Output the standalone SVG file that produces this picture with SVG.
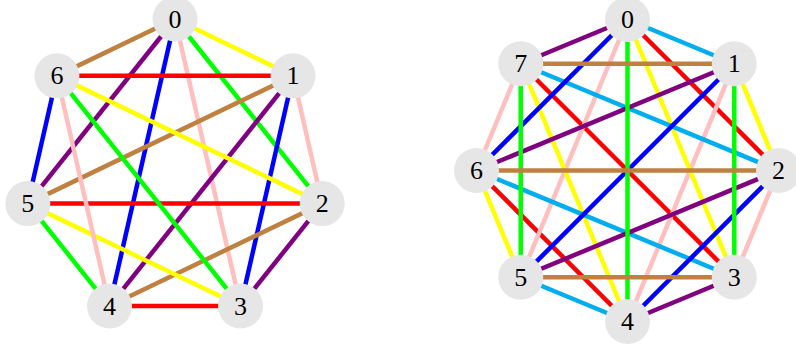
<svg xmlns="http://www.w3.org/2000/svg" width="796" height="349" viewBox="0 0 796 349">
<style>
line{stroke-width:4.5;stroke-linecap:butt}
.r{stroke:#ff0000}.y{stroke:#ffff00}.g{stroke:#00ff00}.p{stroke:#ffbfbf}
.b{stroke:#0000ff}.v{stroke:#800080}.n{stroke:#bf8040}.c{stroke:#00aeef}
circle{fill:#e6e6e6}
text{font-family:"Liberation Serif","Times New Roman",serif;font-size:26px;text-anchor:middle;fill:#000}
</style>
<rect width="796" height="349" fill="#fff"/>
<g id="connectors-left">
<line class="y" x1="175" y1="19" x2="293.06" y2="75.85"/>
<line class="g" x1="175" y1="19" x2="322.21" y2="203.6"/>
<line class="p" x1="175" y1="19" x2="240.52" y2="306.05"/>
<line class="b" x1="175" y1="19" x2="109.48" y2="306.05"/>
<line class="v" x1="175" y1="19" x2="27.79" y2="203.6"/>
<line class="n" x1="175" y1="19" x2="56.94" y2="75.85"/>
<line class="p" x1="293.06" y1="75.85" x2="322.21" y2="203.6"/>
<line class="b" x1="293.06" y1="75.85" x2="240.52" y2="306.05"/>
<line class="v" x1="293.06" y1="75.85" x2="109.48" y2="306.05"/>
<line class="n" x1="293.06" y1="75.85" x2="27.79" y2="203.6"/>
<line class="r" x1="293.06" y1="75.85" x2="56.94" y2="75.85"/>
<line class="v" x1="322.21" y1="203.6" x2="240.52" y2="306.05"/>
<line class="n" x1="322.21" y1="203.6" x2="109.48" y2="306.05"/>
<line class="r" x1="322.21" y1="203.6" x2="27.79" y2="203.6"/>
<line class="y" x1="322.21" y1="203.6" x2="56.94" y2="75.85"/>
<line class="r" x1="240.52" y1="306.05" x2="109.48" y2="306.05"/>
<line class="y" x1="240.52" y1="306.05" x2="27.79" y2="203.6"/>
<line class="g" x1="240.52" y1="306.05" x2="56.94" y2="75.85"/>
<line class="g" x1="109.48" y1="306.05" x2="27.79" y2="203.6"/>
<line class="p" x1="109.48" y1="306.05" x2="56.94" y2="75.85"/>
<line class="b" x1="27.79" y1="203.6" x2="56.94" y2="75.85"/>
</g>
<g id="connectors-right">
<line class="r" x1="627.5" y1="19.5" x2="778.5" y2="170.5"/>
<line class="r" x1="734.27" y1="277.27" x2="520.73" y2="63.73"/>
<line class="r" x1="627.5" y1="321.5" x2="476.5" y2="170.5"/>
<line class="p" x1="627.5" y1="19.5" x2="520.73" y2="277.27"/>
<line class="p" x1="734.27" y1="63.73" x2="627.5" y2="321.5"/>
<line class="p" x1="778.5" y1="170.5" x2="734.27" y2="277.27"/>
<line class="p" x1="476.5" y1="170.5" x2="520.73" y2="63.73"/>
<line class="y" x1="627.5" y1="19.5" x2="734.27" y2="277.27"/>
<line class="y" x1="734.27" y1="63.73" x2="778.5" y2="170.5"/>
<line class="y" x1="627.5" y1="321.5" x2="520.73" y2="63.73"/>
<line class="y" x1="520.73" y1="277.27" x2="476.5" y2="170.5"/>
<line class="c" x1="627.5" y1="19.5" x2="734.27" y2="63.73"/>
<line class="c" x1="778.5" y1="170.5" x2="520.73" y2="63.73"/>
<line class="c" x1="734.27" y1="277.27" x2="476.5" y2="170.5"/>
<line class="c" x1="627.5" y1="321.5" x2="520.73" y2="277.27"/>
<line class="v" x1="627.5" y1="19.5" x2="520.73" y2="63.73"/>
<line class="v" x1="734.27" y1="63.73" x2="476.5" y2="170.5"/>
<line class="v" x1="778.5" y1="170.5" x2="520.73" y2="277.27"/>
<line class="v" x1="734.27" y1="277.27" x2="627.5" y2="321.5"/>
<line class="b" x1="627.5" y1="19.5" x2="476.5" y2="170.5"/>
<line class="b" x1="734.27" y1="63.73" x2="520.73" y2="277.27"/>
<line class="b" x1="778.5" y1="170.5" x2="627.5" y2="321.5"/>
<line class="g" x1="627.5" y1="19.5" x2="627.5" y2="321.5"/>
<line class="g" x1="734.27" y1="63.73" x2="734.27" y2="277.27"/>
<line class="g" x1="520.73" y1="277.27" x2="520.73" y2="63.73"/>
<line class="n" x1="734.27" y1="63.73" x2="520.73" y2="63.73"/>
<line class="n" x1="778.5" y1="170.5" x2="476.5" y2="170.5"/>
<line class="n" x1="734.27" y1="277.27" x2="520.73" y2="277.27"/>
</g>
<g id="L0"><circle cx="175" cy="19" r="22.5"/><text x="175" y="27.5">0</text></g>
<g id="L1"><circle cx="293.06" cy="75.85" r="22.5"/><text x="293.06" y="84.35">1</text></g>
<g id="L2"><circle cx="322.21" cy="203.6" r="22.5"/><text x="322.21" y="212.1">2</text></g>
<g id="L3"><circle cx="240.52" cy="306.05" r="22.5"/><text x="240.52" y="314.55">3</text></g>
<g id="L4"><circle cx="109.48" cy="306.05" r="22.5"/><text x="109.48" y="314.55">4</text></g>
<g id="L5"><circle cx="27.79" cy="203.6" r="22.5"/><text x="27.79" y="212.1">5</text></g>
<g id="L6"><circle cx="56.94" cy="75.85" r="22.5"/><text x="56.94" y="84.35">6</text></g>
<g id="R0"><circle cx="627.5" cy="19.5" r="22.5"/><text x="627.5" y="28">0</text></g>
<g id="R1"><circle cx="734.27" cy="63.73" r="22.5"/><text x="734.27" y="72.23">1</text></g>
<g id="R2"><circle cx="778.5" cy="170.5" r="22.5"/><text x="778.5" y="179">2</text></g>
<g id="R3"><circle cx="734.27" cy="277.27" r="22.5"/><text x="734.27" y="285.77">3</text></g>
<g id="R4"><circle cx="627.5" cy="321.5" r="22.5"/><text x="627.5" y="330">4</text></g>
<g id="R5"><circle cx="520.73" cy="277.27" r="22.5"/><text x="520.73" y="285.77">5</text></g>
<g id="R6"><circle cx="476.5" cy="170.5" r="22.5"/><text x="476.5" y="179">6</text></g>
<g id="R7"><circle cx="520.73" cy="63.73" r="22.5"/><text x="520.73" y="72.23">7</text></g>
</svg>
